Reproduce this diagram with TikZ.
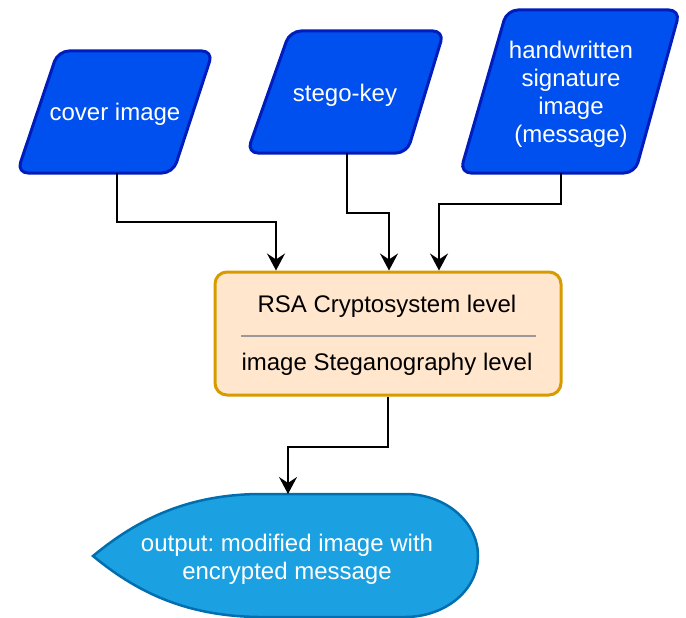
\documentclass[tikz,border=0pt]{standalone}
\usepackage{fontspec}
\setmainfont{Liberation Sans}
\usetikzlibrary{arrows.meta,calc}
\definecolor{pblue}{HTML}{0050EF}
\definecolor{pbluedk}{HTML}{001DBC}
\definecolor{ofill}{HTML}{FFE6CC}
\definecolor{ostroke}{HTML}{D79B00}
\definecolor{dfill}{HTML}{1BA1E2}
\definecolor{dstroke}{HTML}{006EAF}
\definecolor{sepgray}{HTML}{999999}
\frenchspacing
\tikzset{
  para/.style={draw=pbluedk, fill=pblue, line width=3pt, rounded corners=11pt, line join=round},
  wtext/.style={text=white, align=center, font=\fontsize{24}{28}\selectfont, inner sep=0pt},
  btext/.style={text=black, align=center, font=\fontsize{24}{28}\selectfont, inner sep=0pt},
  arr/.style={draw=black, line width=2pt, -{Stealth[length=17pt,width=18pt,inset=6pt]}},
  core/.style={draw=ostroke, fill=ofill, line width=3pt, rounded corners=12pt, minimum width=346pt, minimum height=123pt, inner sep=0pt},
  disp/.style={draw=dstroke, fill=dfill, line width=2.5pt}
}
\begin{document}
\begin{tikzpicture}[x=1pt,y=-1pt]
\useasboundingbox (0,0) rectangle (686,618);
% input parallelograms
\draw[para] (58,51) -- (213,51) -- (173,173) -- (17,173) -- cycle;
\node[wtext] (cover) at (115,114) {cover image};
\coordinate (coverB) at (117,173);
\draw[para] (290,31) -- (444,31) -- (407,153) -- (247,153) -- cycle;
\node[wtext] (key) at (345,95) {stego-key};
\coordinate (keyB) at (347,153);
\draw[para] (507,10) -- (680,10) -- (635,173) -- (460,173) -- cycle;
\node[wtext] (msg) at (571,94) {handwritten\\signature\\image\\(message)};
\coordinate (msgB) at (561,173);
% central process
\node[core] (proc) at (388,333.5) {};
\node[btext] (rsa) at (387,306) {RSA Cryptosystem level};
\node[btext] (steg) at (387,364) {image Steganography level};
\draw[sepgray, line width=2pt] (241,336) -- (536,336);
% output display shape
\draw[disp] (93,556) .. controls (140,517) and (190,495) .. (258,494)
  -- (405,494) .. controls (445.3,494) and (478,521.8) .. (478,556)
  .. controls (478,590.2) and (445.3,617) .. (405,617)
  -- (258,617) .. controls (190,616) and (140,595) .. (93,556) -- cycle;
\node[wtext] (out) at (287,559) {output: modified image with\\encrypted message};
\coordinate (outT) at (288,494);
% connectors
\draw[arr] (coverB) |- (276,222) -- (276,0 |- proc.north);
\draw[arr] (keyB) |- (389,213) -- (389,0 |- proc.north);
\draw[arr] (msgB) |- (439,204) -- (439,0 |- proc.north);
\draw[arr] (388,0 |- proc.south) |- (288,447) -- (outT);
\end{tikzpicture}
\end{document}
